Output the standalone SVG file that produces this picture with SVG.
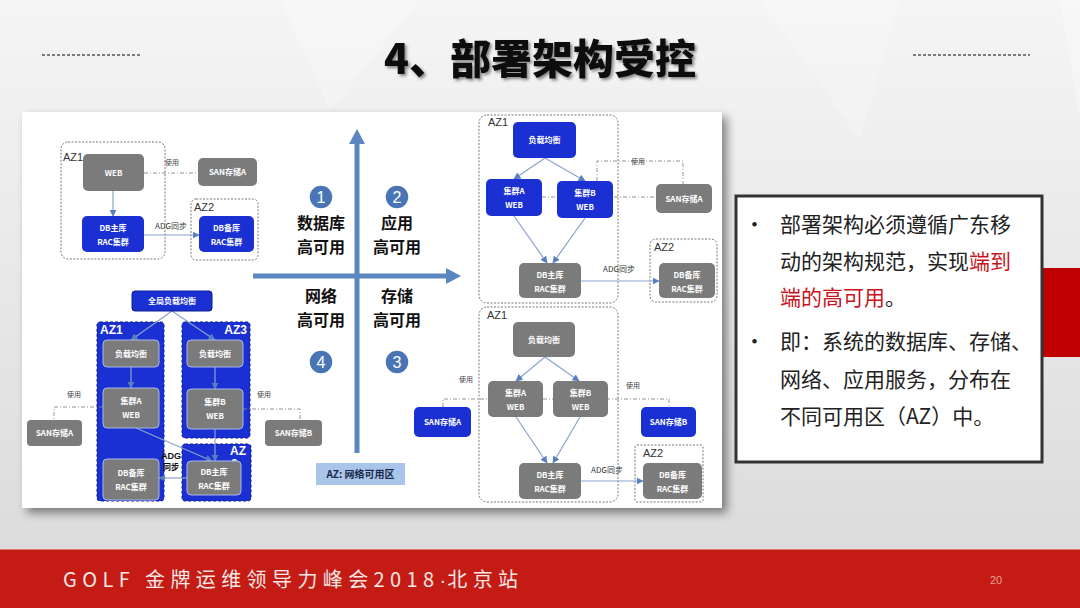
<svg xmlns="http://www.w3.org/2000/svg" width="1080" height="608" viewBox="0 0 1080 608">
<defs>
<linearGradient id="bg" x1="0" y1="0" x2="0" y2="1">
<stop offset="0" stop-color="#f5f5f5"/>
<stop offset="1" stop-color="#d9d9d9"/>
</linearGradient>
<filter id="shadow" x="-5%" y="-5%" width="115%" height="115%">
<feDropShadow dx="5" dy="5" stdDeviation="5" flood-color="#000" flood-opacity="0.45"/>
</filter>
<filter id="tshadow" x="-5%" y="-20%" width="110%" height="150%">
<feDropShadow dx="2" dy="2" stdDeviation="1.5" flood-color="#000" flood-opacity="0.45"/>
</filter>
<marker id="ah" viewBox="0 0 10 10" refX="9" refY="5" markerWidth="6" markerHeight="6" orient="auto">
<path d="M0,0 L10,5 L0,10 z" fill="#5a7fbf"/>
</marker>
<style>
.g{fill:#7b7b7b}
.gb{fill:#7b7b7b;stroke:#a9b8ee;stroke-width:1}
.b{fill:#1b30d2}
.nt{font-family:"Noto Sans CJK SC",sans-serif;font-weight:bold;font-size:8px;fill:#fff;text-anchor:middle}
.az{fill:none;stroke:#777;stroke-width:1;stroke-dasharray:2 1.5}
.azl{font-family:"Liberation Sans",sans-serif;font-size:11px;fill:#333}
.azw{font-family:"Liberation Sans",sans-serif;font-weight:bold;font-size:12px;fill:#fff}
.cont{fill:#1b30d2;stroke:#0d1e8e;stroke-width:1;stroke-dasharray:3 2}
.c{stroke:#8aa2cf;stroke-width:1.2;fill:none;marker-end:url(#ah)}
.d{stroke:#888;stroke-width:0.9;fill:none;stroke-dasharray:4 2 1 2}
.sm{font-family:"Noto Sans CJK SC",sans-serif;font-size:7px;fill:#444;text-anchor:middle}
.adg{font-family:"Noto Sans CJK SC",sans-serif;font-size:8px;fill:#333;text-anchor:middle}
.q{font-family:"Noto Sans CJK SC",sans-serif;font-weight:bold;font-size:16px;fill:#111;text-anchor:middle}
.num{font-family:"Liberation Sans",sans-serif;font-size:16px;fill:#fff;text-anchor:middle}
.circ{fill:#4a75b5;stroke:#fff;stroke-width:1.5}
.bt{font-family:"Noto Sans CJK SC",sans-serif;font-size:21px;fill:#222}
.red{fill:#c8141e}
</style>
</defs>

<!-- background -->
<rect x="0" y="0" width="1080" height="608" fill="url(#bg)"/>
<polygon points="280,0 420,0 330,110" fill="#ffffff" opacity="0.25"/>
<polygon points="1060,0 1080,0 1080,120" fill="#ffffff" opacity="0.3"/>
<polygon points="760,0 900,0 860,140" fill="#ffffff" opacity="0.2"/>

<!-- title -->
<line x1="42" y1="55" x2="142" y2="55" stroke="#555" stroke-width="1.5" stroke-dasharray="3 2"/>
<line x1="913" y1="55" x2="1030" y2="55" stroke="#555" stroke-width="1.5" stroke-dasharray="3 2"/>
<text x="540" y="74" text-anchor="middle" filter="url(#tshadow)" font-family="Noto Sans CJK SC, sans-serif" font-weight="900" font-size="41" fill="#111">4、部署架构受控</text>

<!-- white panel -->
<rect x="22" y="112" width="700" height="396" fill="#fff" filter="url(#shadow)"/>

<!-- AZ frames -->
<g id="tl-az1"><rect class="az" x="61" y="142" width="104" height="117" rx="7"/><text class="azl" x="63" y="161">AZ1</text></g>
<g id="tl-az2"><rect class="az" x="191" y="199" width="67" height="61" rx="5"/><text class="azl" x="194" y="211">AZ2</text></g>
<g id="bl-az1"><rect class="cont" x="97" y="322" width="67" height="179" rx="3"/><text class="azw" x="100" y="334">AZ1</text></g>
<g id="bl-az3"><rect class="cont" x="182" y="322" width="68" height="116" rx="3"/><text class="azw" x="247" y="334" text-anchor="end">AZ3</text></g>
<g id="bl-az2"><rect class="cont" x="182" y="444" width="69" height="57" rx="3"/><text class="azw" x="246" y="455" text-anchor="end">AZ</text><text class="azw" x="231" y="468" font-size="10">2</text></g>
<g id="tr-az1"><rect class="az" x="479" y="115" width="139" height="188" rx="8"/><text class="azl" x="488" y="126">AZ1</text></g>
<g id="tr-az2"><rect class="az" x="650" y="239" width="67" height="63" rx="6"/><text class="azl" x="654" y="251">AZ2</text></g>
<g id="br-az1"><rect class="az" x="479" y="307" width="139" height="195" rx="8"/><text class="azl" x="487" y="319">AZ1</text></g>
<g id="br-az2"><rect class="az" x="635" y="445" width="68" height="57" rx="2"/><text class="azl" x="643" y="457">AZ2</text></g>

<!-- connectors -->
<g id="connectors">
<line class="c" x1="113" y1="191" x2="113" y2="216"/>
<line class="d" x1="144" y1="173" x2="198" y2="173"/>
<line class="c" x1="144" y1="235" x2="199" y2="235"/>
<line class="c" x1="172" y1="311" x2="131" y2="340"/>
<line class="c" x1="172" y1="311" x2="215" y2="340"/>
<line class="c" x1="131" y1="367" x2="131" y2="388"/>
<line class="c" x1="215" y1="367" x2="215" y2="389"/>
<line class="c" x1="215" y1="429" x2="215" y2="461"/>
<line class="c" x1="136" y1="428" x2="212" y2="461"/>
<line class="c" x1="187" y1="478" x2="159" y2="478"/>
<polyline class="d" points="103,407 54,407 54,420"/>
<polyline class="d" points="243,409 300,409 300,420"/>
<line class="c" x1="545" y1="158" x2="514" y2="179"/>
<line class="c" x1="545" y1="158" x2="585" y2="181"/>
<line class="c" x1="514" y1="216" x2="547" y2="263"/>
<line class="c" x1="585" y1="218" x2="553" y2="263"/>
<line class="d" x1="542" y1="197" x2="656" y2="197"/>
<polyline class="d" points="597,181 597,161 683,161 683,184"/>
<line class="c" x1="581" y1="281" x2="659" y2="281"/>
<line class="c" x1="545" y1="357" x2="516" y2="381"/>
<line class="c" x1="545" y1="357" x2="579" y2="381"/>
<line class="c" x1="516" y1="417" x2="547" y2="463"/>
<line class="c" x1="580" y1="417" x2="553" y2="463"/>
<polyline class="d" points="443,407 443,399 669,399 669,407"/>
<line class="c" x1="581" y1="481" x2="643" y2="481"/>
<line x1="357" y1="453" x2="357" y2="142" stroke="#5a87c0" stroke-width="5"/>
<polygon points="357,129 349,144 365,144" fill="#5a87c0"/>
<line x1="253" y1="276" x2="447" y2="276" stroke="#5a87c0" stroke-width="5"/>
<polygon points="461,276 446,268 446,284" fill="#5a87c0"/>
</g>

<!-- connector labels -->
<text class="sm" x="172" y="165">使用</text>
<text class="adg" x="171" y="229">ADG同步</text>
<text class="sm" x="74" y="397">使用</text>
<text class="sm" x="264" y="397">使用</text>
<text x="171" y="459" text-anchor="middle" font-family="Liberation Sans, sans-serif" font-weight="bold" font-size="9" fill="#111">ADG</text>
<text x="171" y="470" text-anchor="middle" font-family="Noto Sans CJK SC, sans-serif" font-weight="bold" font-size="8" fill="#111">同步</text>
<text class="sm" x="638" y="164">使用</text>
<text class="adg" x="619" y="272">ADG同步</text>
<text class="sm" x="466" y="382">使用</text>
<text class="sm" x="633" y="388">使用</text>
<text class="adg" x="607" y="473">ADG同步</text>

<!-- top-left nodes -->
<g id="tl-web"><rect class="g" x="83" y="154" width="61" height="37" rx="5"/><text class="nt" x="113.5" y="176">WEB</text></g>
<g id="tl-dbm"><rect class="b" x="82" y="216" width="62" height="36" rx="5"/><text class="nt" x="113" y="231">DB主库</text><text class="nt" x="113" y="245">RAC集群</text></g>
<g id="tl-san"><rect class="g" x="198" y="158" width="59" height="28" rx="5"/><text class="nt" x="227.5" y="175">SAN存储A</text></g>
<g id="tl-dbs"><rect class="b" x="199" y="216" width="55" height="36" rx="5"/><text class="nt" x="226.5" y="231">DB备库</text><text class="nt" x="226.5" y="245">RAC集群</text></g>

<!-- bottom-left nodes -->
<g id="bl-glb"><rect class="b" x="132" y="291" width="80" height="20" rx="3" stroke="#0d1e8e"/><text class="nt" x="172" y="304" font-size="9">全局负载均衡</text></g>
<g id="bl-lb1"><rect class="gb" x="103" y="340" width="56" height="27" rx="4"/><text class="nt" x="131" y="357">负载均衡</text></g>
<g id="bl-lb3"><rect class="gb" x="187" y="340" width="56" height="27" rx="4"/><text class="nt" x="215" y="357">负载均衡</text></g>
<g id="bl-ca"><rect class="gb" x="103" y="388" width="56" height="40" rx="4"/><text class="nt" x="131" y="404">集群A</text><text class="nt" x="131" y="418">WEB</text></g>
<g id="bl-cb"><rect class="gb" x="187" y="389" width="56" height="40" rx="4"/><text class="nt" x="215" y="405">集群B</text><text class="nt" x="215" y="419">WEB</text></g>
<g id="bl-dbs"><rect class="gb" x="103" y="459" width="56" height="41" rx="4"/><text class="nt" x="131" y="476">DB备库</text><text class="nt" x="131" y="490">RAC集群</text></g>
<g id="bl-dbm"><rect class="gb" x="187" y="461" width="54" height="34" rx="4"/><text class="nt" x="214" y="475">DB主库</text><text class="nt" x="214" y="489">RAC集群</text></g>
<g id="bl-sana"><rect class="g" x="27" y="420" width="55" height="26" rx="4"/><text class="nt" x="54.5" y="436">SAN存储A</text></g>
<g id="bl-sanb"><rect class="g" x="265" y="420" width="57" height="26" rx="4"/><text class="nt" x="293.5" y="436">SAN存储B</text></g>

<!-- center quadrant -->
<g id="q1"><circle class="circ" cx="321" cy="197" r="12"/><text class="num" x="321" y="203">1</text><text class="q" x="321" y="229">数据库</text><text class="q" x="321" y="252.5">高可用</text></g>
<g id="q2"><circle class="circ" cx="397" cy="197" r="12"/><text class="num" x="397" y="203">2</text><text class="q" x="397" y="229">应用</text><text class="q" x="397" y="252.5">高可用</text></g>
<g id="q4"><circle class="circ" cx="321" cy="362" r="12"/><text class="num" x="321" y="368">4</text><text class="q" x="321" y="302">网络</text><text class="q" x="321" y="325.5">高可用</text></g>
<g id="q3"><circle class="circ" cx="397" cy="362" r="12"/><text class="num" x="397" y="368">3</text><text class="q" x="397" y="302">存储</text><text class="q" x="397" y="325.5">高可用</text></g>
<g id="az-legend"><rect x="316" y="463" width="89" height="22" fill="#a9c5ea"/><text x="360.5" y="478" text-anchor="middle" font-family="Noto Sans CJK SC, sans-serif" font-weight="bold" font-size="10" fill="#1a2a4a">AZ: 网络可用区</text></g>

<!-- top-right nodes -->
<g id="tr-lb"><rect class="b" x="513" y="122" width="63" height="36" rx="5"/><text class="nt" x="544.5" y="143">负载均衡</text></g>
<g id="tr-ca"><rect class="b" x="486" y="179" width="56" height="37" rx="5"/><text class="nt" x="514" y="194">集群A</text><text class="nt" x="514" y="208">WEB</text></g>
<g id="tr-cb"><rect class="b" x="557" y="181" width="56" height="37" rx="5"/><text class="nt" x="585" y="196">集群B</text><text class="nt" x="585" y="210">WEB</text></g>
<g id="tr-san"><rect class="g" x="656" y="184" width="56" height="29" rx="5"/><text class="nt" x="684" y="202">SAN存储A</text></g>
<g id="tr-dbm"><rect class="g" x="519" y="263" width="62" height="35" rx="5"/><text class="nt" x="550" y="278">DB主库</text><text class="nt" x="550" y="292">RAC集群</text></g>
<g id="tr-dbs"><rect class="g" x="659" y="263" width="56" height="35" rx="5"/><text class="nt" x="687" y="278">DB备库</text><text class="nt" x="687" y="292">RAC集群</text></g>

<!-- bottom-right nodes -->
<g id="br-lb"><rect class="g" x="513" y="322" width="62" height="35" rx="5"/><text class="nt" x="544" y="343">负载均衡</text></g>
<g id="br-ca"><rect class="g" x="488" y="381" width="55" height="36" rx="5"/><text class="nt" x="515.5" y="396">集群A</text><text class="nt" x="515.5" y="410">WEB</text></g>
<g id="br-cb"><rect class="g" x="553" y="381" width="55" height="36" rx="5"/><text class="nt" x="580.5" y="396">集群B</text><text class="nt" x="580.5" y="410">WEB</text></g>
<g id="br-sana"><rect class="b" x="414" y="407" width="57" height="30" rx="5"/><text class="nt" x="442.5" y="425">SAN存储A</text></g>
<g id="br-sanb"><rect class="b" x="641" y="407" width="55" height="30" rx="5"/><text class="nt" x="668.5" y="425">SAN存储B</text></g>
<g id="br-dbm"><rect class="g" x="519" y="463" width="62" height="36" rx="5"/><text class="nt" x="550" y="478">DB主库</text><text class="nt" x="550" y="492">RAC集群</text></g>
<g id="br-dbs"><rect class="g" x="643" y="463" width="59" height="36" rx="5"/><text class="nt" x="672.5" y="478">DB备库</text><text class="nt" x="672.5" y="492">RAC集群</text></g>

<!-- right text box -->
<rect x="1043" y="268" width="37" height="89" fill="#c00000"/>
<g id="textbox">
<rect x="736" y="196" width="306" height="266" fill="#fff" stroke="#333" stroke-width="3"/>
<text class="bt" x="744" y="232">•</text>
<text class="bt" x="780" y="232">部署架构必须遵循广东移</text>
<text class="bt" x="780" y="269">动的架构规范，实现<tspan class="red">端到</tspan></text>
<text class="bt" x="780" y="305"><tspan class="red">端的高可用</tspan>。</text>
<text class="bt" x="744" y="349">•</text>
<text class="bt" x="780" y="349">即：系统的数据库、存储、</text>
<text class="bt" x="780" y="387">网络、应用服务，分布在</text>
<text class="bt" x="780" y="424">不同可用区（AZ）中。</text>
</g>

<!-- footer -->
<rect x="0" y="549" width="1080" height="59" fill="#c41c15"/>
<line x1="0" y1="549.5" x2="1080" y2="549.5" stroke="#e2766e" stroke-width="1"/>
<text x="63" y="587" font-family="Noto Sans CJK SC, sans-serif" font-size="20" letter-spacing="5.4" fill="#f5e8e6">GOLF 金牌运维领导力峰会2018<tspan font-family="Liberation Sans, sans-serif" letter-spacing="1">·</tspan>北京站</text>
<text x="990" y="584" font-family="Liberation Sans, sans-serif" font-size="11" fill="#e6a09a">20</text>
</svg>
